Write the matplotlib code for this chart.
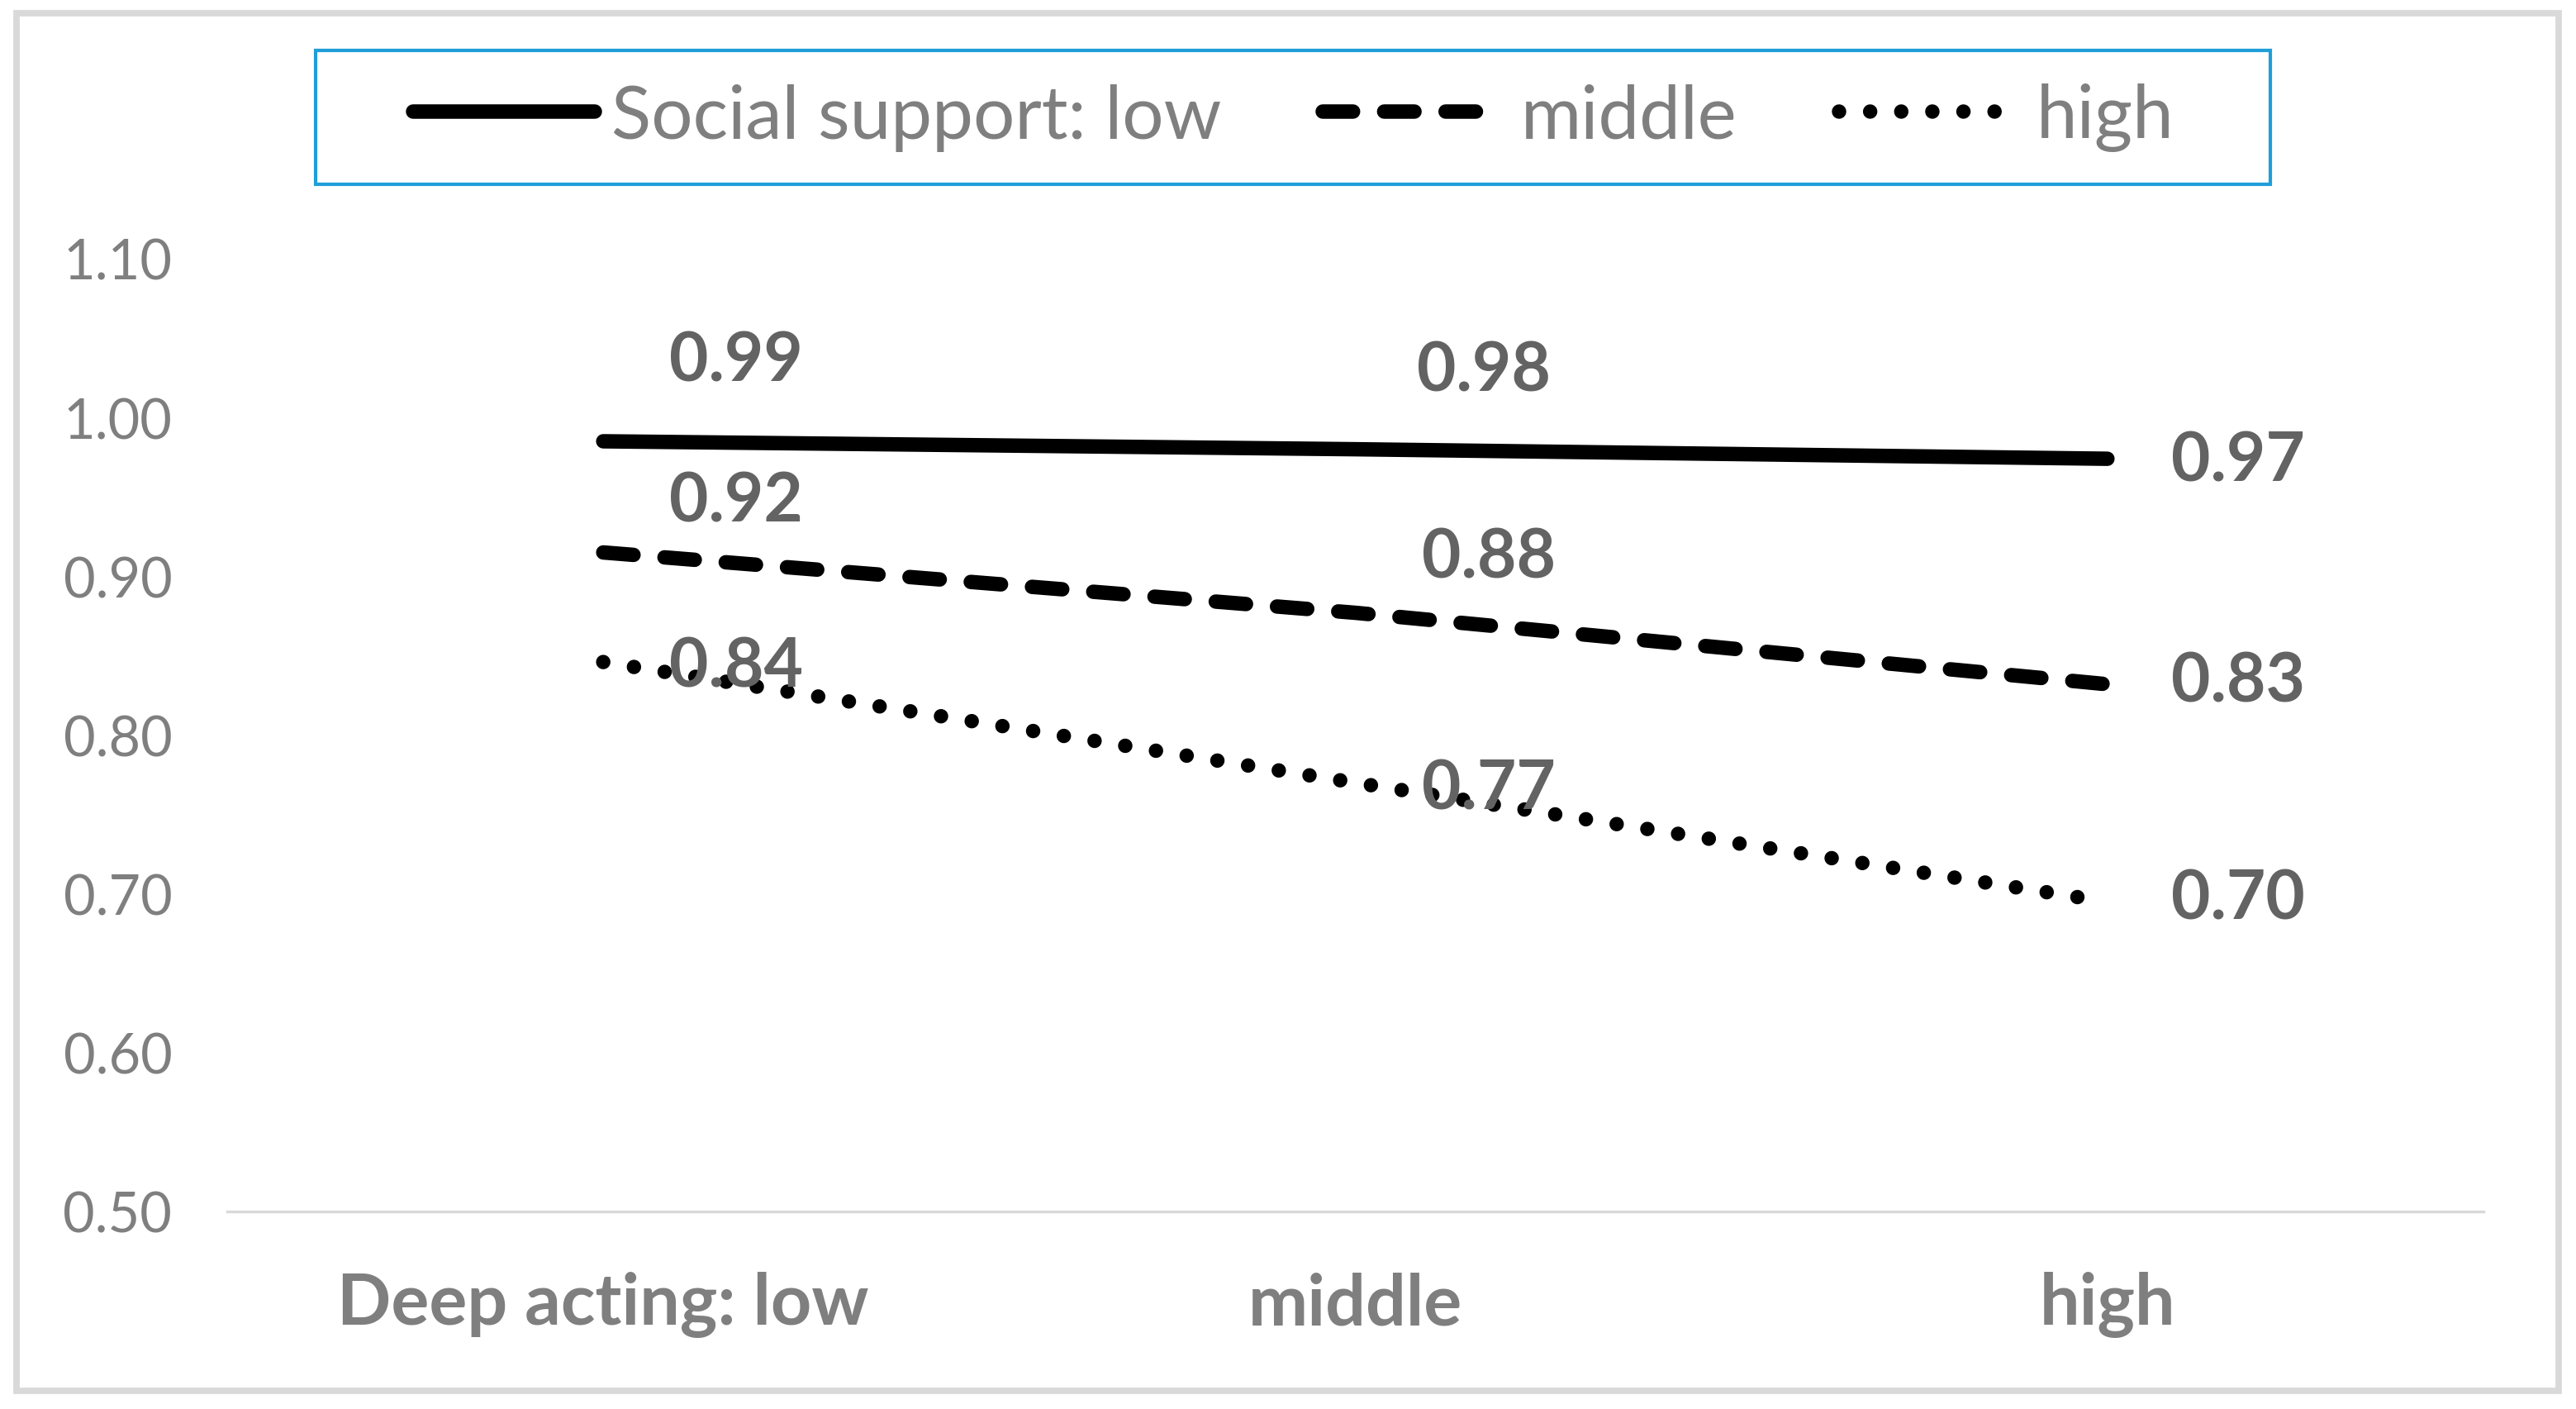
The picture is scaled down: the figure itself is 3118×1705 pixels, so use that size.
import matplotlib
matplotlib.use("Agg")
import matplotlib.pyplot as plt
from matplotlib.patches import Rectangle

# ---- data ----
categories = ["Deep acting: low", "middle", "high"]
series_names = ["Social support: low", "middle", "high"]
low_support = [0.985, 0.980, 0.974]
mid_support = [0.915, 0.877, 0.832]
high_support = [0.846, 0.770, 0.695]
low_labels = ["0.99", "0.98", "0.97"]
mid_labels = ["0.92", "0.88", "0.83"]
high_labels = ["0.84", "0.77", "0.70"]
y_ticks = [0.50, 0.60, 0.70, 0.80, 0.90, 1.00, 1.10]

# ---- style ----
plt.rcParams['font.family'] = ['Lato', 'DejaVu Sans']
DPI = 200
W, H = 3118, 1706
fig = plt.figure(figsize=(W / DPI, H / DPI), dpi=DPI)
fig.patch.set_facecolor("white")

ax = fig.add_axes([275 / W, 1 - 1467 / H, 2731 / W, (1467 - 314) / H])
ax.set_xlim(0, 3)
ax.set_ylim(0.5, 1.1)

lw = 6.3
styles = [
    dict(linestyle="-", solid_capstyle="round"),
    dict(linestyle=(0, (2.1, 2.15)), dash_capstyle="round"),
    dict(linestyle=(0, (0.001, 2.15)), dash_capstyle="round"),
]
# label offsets in points (dx, dy) for each series / point
offsets = [
    [(58, 35), (56, 34), (57, -1)],
    [(58, 22), (58, 24), (57, 1)],
    [(58, -2), (58, -3), (57, 1)],
]

xs = [i + 0.5 for i in range(len(categories))]
all_vals = [low_support, mid_support, high_support]
all_labels = [low_labels, mid_labels, high_labels]
handles = []
for vals, labs, st, offs, name in zip(all_vals, all_labels, styles, offsets, series_names):
    (ln,) = ax.plot(xs, vals, color="black", lw=lw, label=name, **st)
    handles.append(ln)
    for x, v, t, (dx, dy) in zip(xs, vals, labs, offs):
        ax.annotate(t, (x, v), xytext=(dx, dy), textcoords="offset points",
                    ha="center", va="center", fontsize=29.5, fontweight="bold",
                    color="#636363")

# axes styling
for s in ["top", "right", "left"]:
    ax.spines[s].set_visible(False)
ax.spines["bottom"].set_color("#d9d9d9")
ax.spines["bottom"].set_linewidth(1.2)
ax.set_yticks(y_ticks)
ax.set_yticklabels([f"{t:.2f}" for t in y_ticks], fontsize=24, color="#7f7f7f")
ax.set_xticks(xs)
ax.set_xticklabels(categories, fontsize=31, fontweight="bold", color="#7f7f7f")
ax.tick_params(axis="y", length=0, pad=24)
ax.tick_params(axis="x", length=0, pad=26)

# legend
leg = fig.legend(handles=handles, labels=series_names, loc="center",
                 bbox_to_anchor=((382 + 2750) / 2 / W, 1 - 143 / H), ncol=3,
                 frameon=False, fontsize=32, handlelength=2.47,
                 handletextpad=0.22, columnspacing=1.39)
for t in leg.get_texts():
    t.set_color("#7f7f7f")
fig.patches.append(Rectangle((382 / W, 1 - 224 / H), (2748 - 382) / W, (224 - 62) / H,
                             transform=fig.transFigure, fill=False,
                             edgecolor="#1f9ed9", linewidth=1.5))

# outer chart border
fig.patches.append(Rectangle((20 / W, 1 - 1684 / H), (3097 - 20) / W, (1684 - 17) / H,
                             transform=fig.transFigure, fill=False,
                             edgecolor="#d9d9d9", linewidth=2.8))

fig.savefig("out.png", dpi=DPI)
